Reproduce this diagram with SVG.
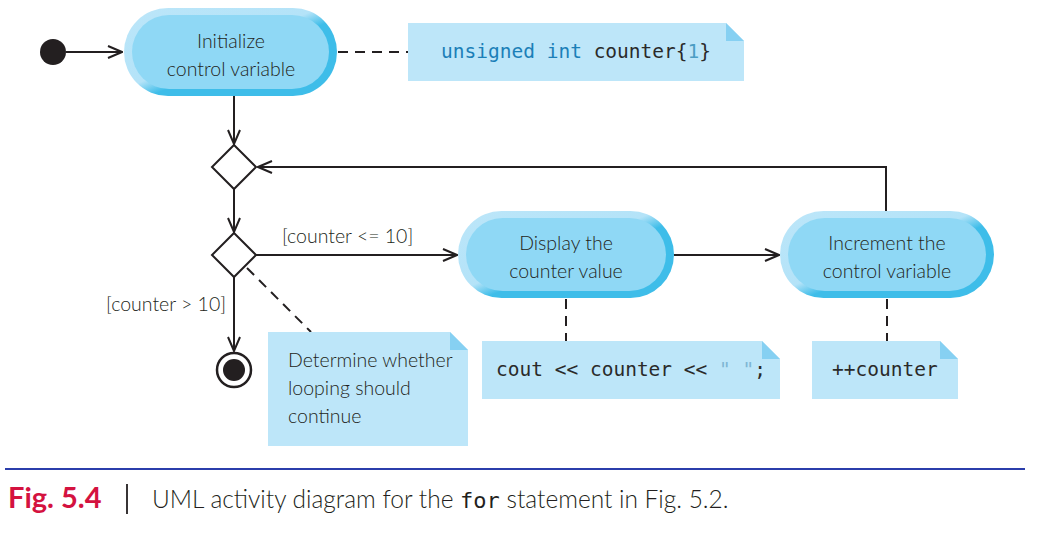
<svg xmlns="http://www.w3.org/2000/svg" width="1045" height="538" viewBox="0 0 1045 538">
<style>
.bg{fill:#fff}
.ln{stroke:#231f20;stroke-width:2;fill:none}
.dash{stroke:#231f20;stroke-width:2;fill:none;stroke-dasharray:10,7}
.outer{fill:url(#bevel)}
.inner{fill:#8fd8f5}
.note{fill:#bde6f9}
.fold{fill:#86d0f2}
.dia{fill:#fff;stroke:#231f20;stroke-width:2}
.t{font-family:Lato,"Open Sans","Liberation Sans",sans-serif;font-weight:300;font-size:19.5px;fill:#231f20}
.tc{text-anchor:middle}
.code{font-family:"DejaVu Sans Mono",monospace;font-size:19.5px;fill:#2a2a2a}
.kw{fill:#1b7fb8}
.num{fill:#4b9dc4}
.str{fill:#7fb6d4}
</style>
<defs>
<linearGradient id="bevel" x1="0" y1="0" x2="1" y2="1">
<stop offset="0" stop-color="#bce6f9"/>
<stop offset="0.46" stop-color="#b4e3f8"/>
<stop offset="0.56" stop-color="#3ebde9"/>
<stop offset="1" stop-color="#3ebde9"/>
</linearGradient>
<marker id="arr" viewBox="0 0 16 14" refX="15" refY="7" markerWidth="16" markerHeight="14" markerUnits="userSpaceOnUse" orient="auto">
<path d="M1,1 L15,7 L1,13" fill="none" stroke="#231f20" stroke-width="2"/>
</marker>
</defs>
<rect class="bg" x="0" y="0" width="1045" height="538"/>

<g id="connectors">
<line class="ln" x1="66" y1="52" x2="122" y2="52" marker-end="url(#arr)"/>
<line class="dash" x1="338" y1="52" x2="408" y2="52"/>
<line class="ln" x1="234" y1="96" x2="234" y2="144" marker-end="url(#arr)"/>
<line class="ln" x1="234" y1="189" x2="234" y2="232" marker-end="url(#arr)"/>
<polyline class="ln" points="886,211 886,167 258,167" marker-end="url(#arr)"/>
<line class="ln" x1="256" y1="255" x2="457" y2="255" marker-end="url(#arr)"/>
<line class="ln" x1="674" y1="255" x2="779" y2="255" marker-end="url(#arr)"/>
<line class="ln" x1="234" y1="277" x2="234" y2="351" marker-end="url(#arr)"/>
<line class="dash" x1="247" y1="268" x2="311" y2="332"/>
<line class="dash" x1="566" y1="299" x2="566" y2="341"/>
<line class="dash" x1="887" y1="299" x2="887" y2="341"/>
<text class="t" x="282" y="243">[counter &lt;= 10]</text>
<text class="t" x="226" y="311" text-anchor="end">[counter &gt; 10]</text>
</g>

<g id="initial">
<circle cx="53" cy="52" r="13" fill="#231f20"/>
</g>

<g id="init">
<rect class="outer" x="124" y="8" width="213" height="88" rx="44"/>
<rect class="inner" x="132" y="15" width="197" height="74" rx="37"/>
<text class="t tc" x="231" y="48">Initialize</text>
<text class="t tc" x="231" y="76">control variable</text>
</g>

<g id="note-init">
<path class="note" d="M408,23 H726 L744,41 V81 H408 Z"/>
<path class="fold" d="M726,23 L744,41 H726 Z"/>
<text class="code" x="441" y="58"><tspan class="kw">unsigned int</tspan> counter{<tspan class="num">1</tspan>}</text>
</g>

<g id="merge">
<polygon class="dia" points="234,145 256,167 234,189 212,167"/>
</g>

<g id="decision">
<polygon class="dia" points="234,233 256,255 234,277 212,255"/>
</g>

<g id="display">
<rect class="outer" x="458" y="211" width="216" height="87" rx="43.5"/>
<rect class="inner" x="466" y="218" width="200" height="73" rx="36.5"/>
<text class="t tc" x="566" y="250">Display the</text>
<text class="t tc" x="566" y="278">counter value</text>
</g>

<g id="increment">
<rect class="outer" x="780" y="211" width="214" height="87" rx="43.5"/>
<rect class="inner" x="788" y="218" width="198" height="73" rx="36.5"/>
<text class="t tc" x="887" y="250">Increment the</text>
<text class="t tc" x="887" y="278">control variable</text>
</g>

<g id="final">
<circle cx="234" cy="370" r="17" fill="#fff" stroke="#231f20" stroke-width="2.5"/>
<circle cx="234" cy="370" r="11" fill="#231f20"/>
</g>

<g id="note-decision">
<path class="note" d="M268,332 H450 L468,350 V446 H268 Z"/>
<path class="fold" d="M450,332 L468,350 H450 Z"/>
<text class="t" x="288" y="367">Determine whether</text>
<text class="t" x="288" y="395">looping should</text>
<text class="t" x="288" y="423">continue</text>
</g>

<g id="note-display">
<path class="note" d="M482,341 H762 L780,359 V399 H482 Z"/>
<path class="fold" d="M762,341 L780,359 H762 Z"/>
<text class="code" x="496" y="376">cout &lt;&lt; counter &lt;&lt; <tspan class="str">" "</tspan>;</text>
</g>

<g id="note-increment">
<path class="note" d="M812,341 H940 L958,359 V399 H812 Z"/>
<path class="fold" d="M940,341 L958,359 H940 Z"/>
<text class="code" x="832" y="376">++counter</text>
</g>

<g id="caption">
<line x1="5" y1="469" x2="1025" y2="469" stroke="#2b3eab" stroke-width="2"/>
<text x="8" y="508" font-family="Lato,'Liberation Sans',sans-serif" font-weight="bold" font-size="29" fill="#d4123f">Fig. 5.4</text>
<line x1="127" y1="484" x2="127" y2="514" stroke="#231f20" stroke-width="1.8"/>
<text x="152" y="508" font-family="Lato,'Liberation Sans',sans-serif" font-weight="300" font-size="24.5" fill="#231f20">UML activity diagram for the <tspan font-family="'DejaVu Sans Mono',monospace" font-size="22">for</tspan> statement in Fig. 5.2.</text>
</g>
</svg>
